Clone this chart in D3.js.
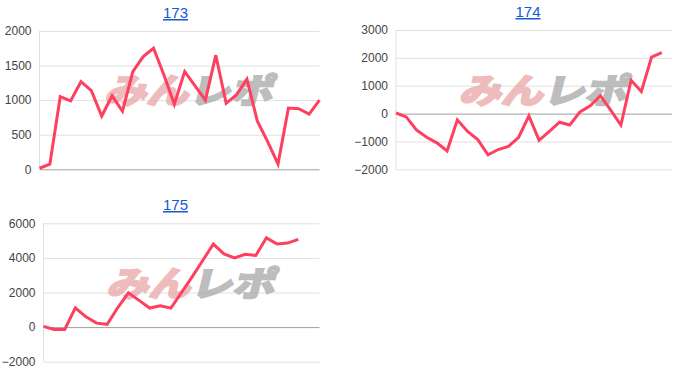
<!DOCTYPE html>
<html>
<head>
<meta charset="utf-8">
<script src="https://cdn.jsdelivr.net/npm/d3@7"></script>
<style>
  body { margin: 0; background: #fff; }
  svg { display: block; font-family: Arial, "Liberation Sans", sans-serif; }
</style>
</head>
<body>
<div id="chart-area"></div>
<script>
// data, one series per machine number
let titles = ["173", "174", "175"];

let values173 = [15, 75, 1050, 990, 1267, 1137, 770, 1063, 840, 1412, 1629, 1750, 1364, 940,
  1415, 1205, 1000, 1650, 954, 1080, 1303, 700, 400, 75, 885, 875, 797, 1000];
let values174 = [20, -120, -590, -850, -1050, -1340, -225, -640, -935, -1480, -1290, -1175, -850,
  -80, -958, -635, -310, -410, 60, 280, 640, 120, -410, 1195, 790, 2030, 2185];
let values175 = [40, -140, -140, 1108, 590, 230, 160, 1130, 1980, 1545, 1100, 1230, 1095, 2000,
  2900, 3850, 4800, 4229, 4000, 4210, 4140, 5160, 4800, 4857, 5070];

let slots = [28, 28, 27];   // x categories per chart
let ticks173 = [0, 500, 1000, 1500, 2000];
let ticks174 = [-2000, -1000, 0, 1000, 2000, 3000];
let ticks175 = [-2000, 0, 2000, 4000, 6000];

let charts = [
  {title: titles[0], values: values173, n: slots[0], ticks: ticks173,
   left: 39.5, right: 319.5, top: 31, bottom: 169.3, titleX: 175.5, titleY: 18},
  {title: titles[1], values: values174, n: slots[1], ticks: ticks174,
   left: 396, right: 672, top: 30, bottom: 169.3, titleX: 528, titleY: 17},
  {title: titles[2], values: values175, n: slots[2], ticks: ticks175,
   left: 43.5, right: 319.5, top: 223.3, bottom: 361.7, titleX: 175.5, titleY: 210}
];

let svg = d3.select("#chart-area").append("svg")
    .attr("width", 700)
    .attr("height", 386);

charts.forEach(c => {
  let g = svg.append("g");

  let x = d3.scalePoint()
    .domain(d3.range(c.n))
    .range([c.left, c.right]);

  let y = d3.scaleLinear()
    .domain(d3.extent(c.ticks))
    .range([c.bottom, c.top]);

  // gridlines + labels
  let yAxis = d3.axisLeft(y)
    .tickValues(c.ticks)
    .tickSize(-(c.right - c.left))
    .tickPadding(3)
    .tickFormat(d3.format("d"));

  let ax = g.append("g")
    .attr("transform", "translate(" + c.left + ",0)")
    .call(yAxis);
  ax.select(".domain").remove();
  ax.selectAll(".tick line")
    .attr("stroke", d => d === 0 ? "#9e9e9e" : "#e0e0e0")
    .attr("stroke-width", 1);
  ax.selectAll(".tick text")
    .attr("fill", "#444")
    .style("font-size", "12px")
    .attr("x", -8);

  // left axis line
  g.append("line")
    .attr("x1", c.left).attr("x2", c.left)
    .attr("y1", c.top).attr("y2", c.bottom)
    .attr("stroke", "#e0e0e0");

  // watermark (logo drawn as text)
  let cx = (c.left + c.right) / 2 + 12;
  let cy = (c.top + c.bottom) / 2 - 10;
  let wm = g.append("g")
    .attr("transform", "translate(" + cx + "," + cy + ") skewX(-14)")
    .style("font-family", "'Noto Sans CJK JP', sans-serif")
    .style("font-weight", "bold")
    .style("font-size", "34px");
  wm.append("text")
    .attr("x", -84).attr("y", 13)
    .attr("textLength", 84)
    .attr("lengthAdjust", "spacingAndGlyphs")
    .attr("fill", "#e9a6a8")
    .attr("stroke", "#e9a6a8")
    .attr("stroke-width", 2.5)
    .attr("opacity", 0.75)
    .text("みん");
  wm.append("text")
    .attr("x", 0).attr("y", 13)
    .attr("textLength", 84)
    .attr("lengthAdjust", "spacingAndGlyphs")
    .attr("fill", "#a8a8a8")
    .attr("stroke", "#a8a8a8")
    .attr("stroke-width", 2.5)
    .attr("opacity", 0.75)
    .text("レポ");

  // series line
  let line = d3.line()
    .x((d, i) => x(i))
    .y(d => y(d));

  g.append("path")
    .datum(c.values)
    .attr("fill", "none")
    .attr("stroke", "#ff3f5f")
    .attr("stroke-width", 3)
    .attr("stroke-linejoin", "miter")
    .attr("d", line);

  // title link
  g.append("text")
    .attr("x", c.titleX)
    .attr("y", c.titleY)
    .attr("text-anchor", "middle")
    .attr("fill", "#1558d6")
    .style("font-size", "15px")
    .style("text-decoration", "underline")
    .text(c.title);
});
</script>
</body>
</html>
